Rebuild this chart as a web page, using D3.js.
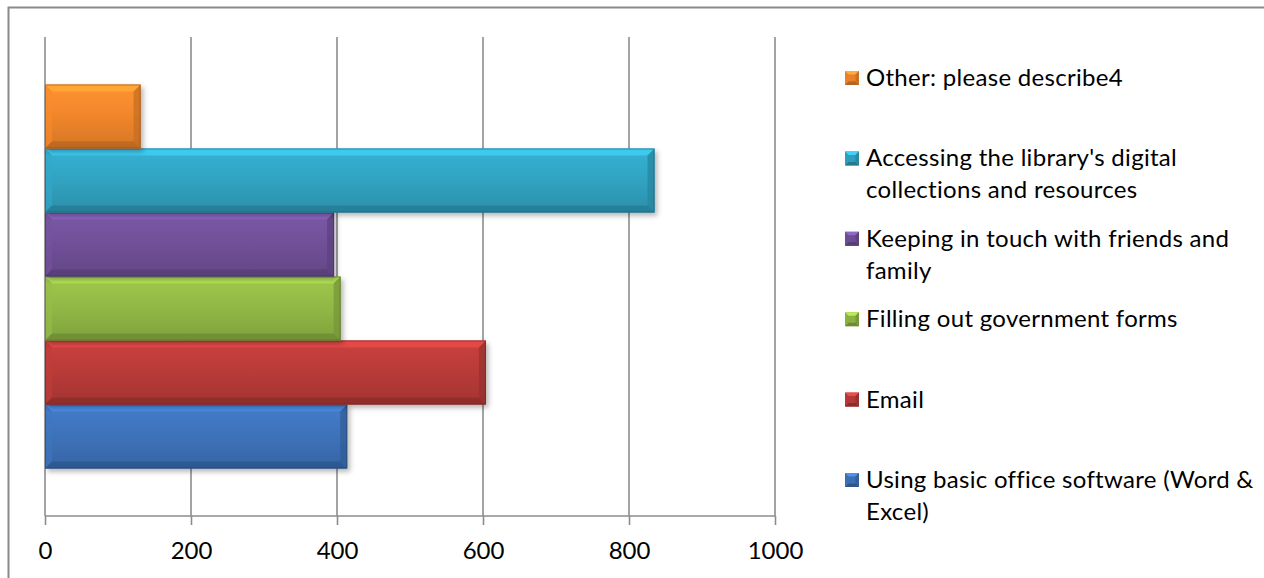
<!DOCTYPE html>
<html>
<head>
<meta charset="utf-8">
<script src="https://cdn.jsdelivr.net/npm/d3@7"></script>
<style>
  html, body { margin: 0; padding: 0; background: #fff; }
  svg { display: block; }
  text { font-family: Lato, "Open Sans", sans-serif; fill: #000; }
</style>
</head>
<body>
<svg id="chart" width="1264" height="578"></svg>
<script>
// ---- data ----
const categories = [
  "Using basic office software (Word & Excel)",
  "Email",
  "Filling out government forms",
  "Keeping in touch with friends and family",
  "Accessing the library's digital collections and resources",
  "Other: please describe4"
];
const values = [414, 604, 405, 396, 835, 131];
const colors = ["#3b6eb3", "#b23937", "#8cb143", "#6c4e93", "#2f9dbb", "#e9812a"];
const tickValues = [0, 200, 400, 600, 800, 1000];

// ---- layout ----
const svg = d3.select("#chart");
const W = 1264, H = 578;
const plot = { left: 45, right: 775, top: 37, bottom: 516 };

const x = d3.scaleLinear().domain([0, 1000]).range([plot.left, plot.right]);
const y = d3.scaleBand().domain(categories)
  .range([plot.bottom, plot.top]).paddingInner(0).paddingOuter(0.742);

const defs = svg.append("defs");
const shadow = defs.append("filter").attr("id", "shadow")
  .attr("x", "-10%").attr("y", "-20%").attr("width", "130%").attr("height", "150%");
shadow.append("feDropShadow").attr("dx", 2.5).attr("dy", 3).attr("stdDeviation", 2.5)
  .attr("flood-color", "#000").attr("flood-opacity", 0.28);

colors.forEach((c, i) => {
  const base = d3.color(c);
  const g = defs.append("linearGradient").attr("id", "grad" + i)
    .attr("x1", 0).attr("y1", 0).attr("x2", 0).attr("y2", 1);
  g.append("stop").attr("offset", "0%").attr("stop-color", base.brighter(0.35));
  g.append("stop").attr("offset", "45%").attr("stop-color", base.brighter(0.12));
  g.append("stop").attr("offset", "100%").attr("stop-color", base.darker(0.25));
});

// outer frame (left and top visible)
svg.append("rect").attr("x", 8.5).attr("y", 7.5).attr("width", W + 20).attr("height", H + 20)
  .attr("fill", "none").attr("stroke", "#8a8a8a").attr("stroke-width", 2);

// gridlines
svg.append("g").selectAll("line").data(tickValues).join("line")
  .attr("x1", d => x(d)).attr("x2", d => x(d))
  .attr("y1", plot.top).attr("y2", plot.bottom)
  .attr("stroke", "#8c8c8c").attr("stroke-width", 1.6);

// x axis
const axis = svg.append("g").attr("transform", `translate(0,${plot.bottom})`)
  .call(d3.axisBottom(x).tickValues(tickValues).tickSize(9).tickPadding(17).tickFormat(d3.format("d")));
axis.select(".domain").attr("stroke", "#8c8c8c").attr("stroke-width", 1.6).attr("d", `M${plot.left},0H${plot.right}`);
axis.selectAll(".tick line").attr("stroke", "#8c8c8c").attr("stroke-width", 1.6);
axis.selectAll(".tick text").attr("font-size", 24).attr("font-family", "Lato, sans-serif").attr("fill", "#000");

// bars with bevel
const bars = svg.append("g").selectAll("g").data(categories).join("g")
  .attr("filter", "url(#shadow)");
bars.each(function(cat, i) {
  const gsel = d3.select(this);
  const x0 = x(0), x1 = x(values[i]);
  const y0 = y(cat), y1 = y(cat) + y.bandwidth();
  const b = 7;
  const base = d3.color(colors[i]);
  gsel.append("rect").attr("x", x0).attr("y", y0).attr("width", x1 - x0).attr("height", y1 - y0)
    .attr("fill", `url(#grad${i})`);
  gsel.append("polygon")
    .attr("points", [[x0, y0], [x1, y0], [x1 - b, y0 + b], [x0 + b, y0 + b]].join(" "))
    .attr("fill", base.brighter(0.8)).attr("opacity", 0.75);
  gsel.append("polygon")
    .attr("points", [[x0, y0], [x0 + b, y0 + b], [x0 + b, y1 - b], [x0, y1]].join(" "))
    .attr("fill", base.brighter(0.2)).attr("opacity", 0.6);
  gsel.append("polygon")
    .attr("points", [[x1, y0], [x1, y1], [x1 - b, y1 - b], [x1 - b, y0 + b]].join(" "))
    .attr("fill", base.darker(0.45)).attr("opacity", 0.75);
  gsel.append("polygon")
    .attr("points", [[x0, y1], [x0 + b, y1 - b], [x1 - b, y1 - b], [x1, y1]].join(" "))
    .attr("fill", base.darker(0.7)).attr("opacity", 0.75);
  gsel.append("rect").attr("x", x0 + 0.5).attr("y", y0 + 0.5).attr("width", x1 - x0 - 1).attr("height", y1 - y0 - 1)
    .attr("fill", "none").attr("stroke", base.darker(1.4)).attr("stroke-width", 1).attr("opacity", 0.6);
});

// legend (reverse order: top = last series)
const legendX = 845, legendTextX = 866, legendTop = 86, legendStep = 80.4, lineH = 32, maxW = 400;
const legendOrder = categories.map((c, i) => i).reverse();
const leg = svg.append("g");
legendOrder.forEach((i, k) => {
  const baseY = legendTop + k * legendStep;
  const base = d3.color(colors[i]);
  const s = 14;
  const mx = legendX, my = baseY - 15;
  const g = leg.append("g");
  g.append("rect").attr("x", mx).attr("y", my).attr("width", s).attr("height", s).attr("fill", base);
  const bb = 3.5;
  g.append("polygon").attr("points", [[mx, my], [mx + s, my], [mx + s - bb, my + bb], [mx + bb, my + bb]].join(" "))
    .attr("fill", base.brighter(0.8));
  g.append("polygon").attr("points", [[mx, my + s], [mx + bb, my + s - bb], [mx + s - bb, my + s - bb], [mx + s, my + s]].join(" "))
    .attr("fill", base.darker(0.7));
  g.append("polygon").attr("points", [[mx + s, my], [mx + s, my + s], [mx + s - bb, my + s - bb], [mx + s - bb, my + bb]].join(" "))
    .attr("fill", base.darker(0.4));
  const t = g.append("text").attr("x", legendTextX).attr("y", baseY)
    .attr("font-size", 24).attr("letter-spacing", 0.3);
  const words = categories[i].split(" ");
  let line = [], lineNo = 0;
  let ts = t.append("tspan").attr("x", legendTextX).attr("y", baseY);
  words.forEach(w => {
    line.push(w);
    ts.text(line.join(" "));
    if (ts.node().getComputedTextLength() > maxW && line.length > 1) {
      line.pop();
      ts.text(line.join(" "));
      line = [w];
      lineNo++;
      ts = t.append("tspan").attr("x", legendTextX).attr("y", baseY + lineNo * lineH).text(w);
    }
  });
});
</script>
</body>
</html>
